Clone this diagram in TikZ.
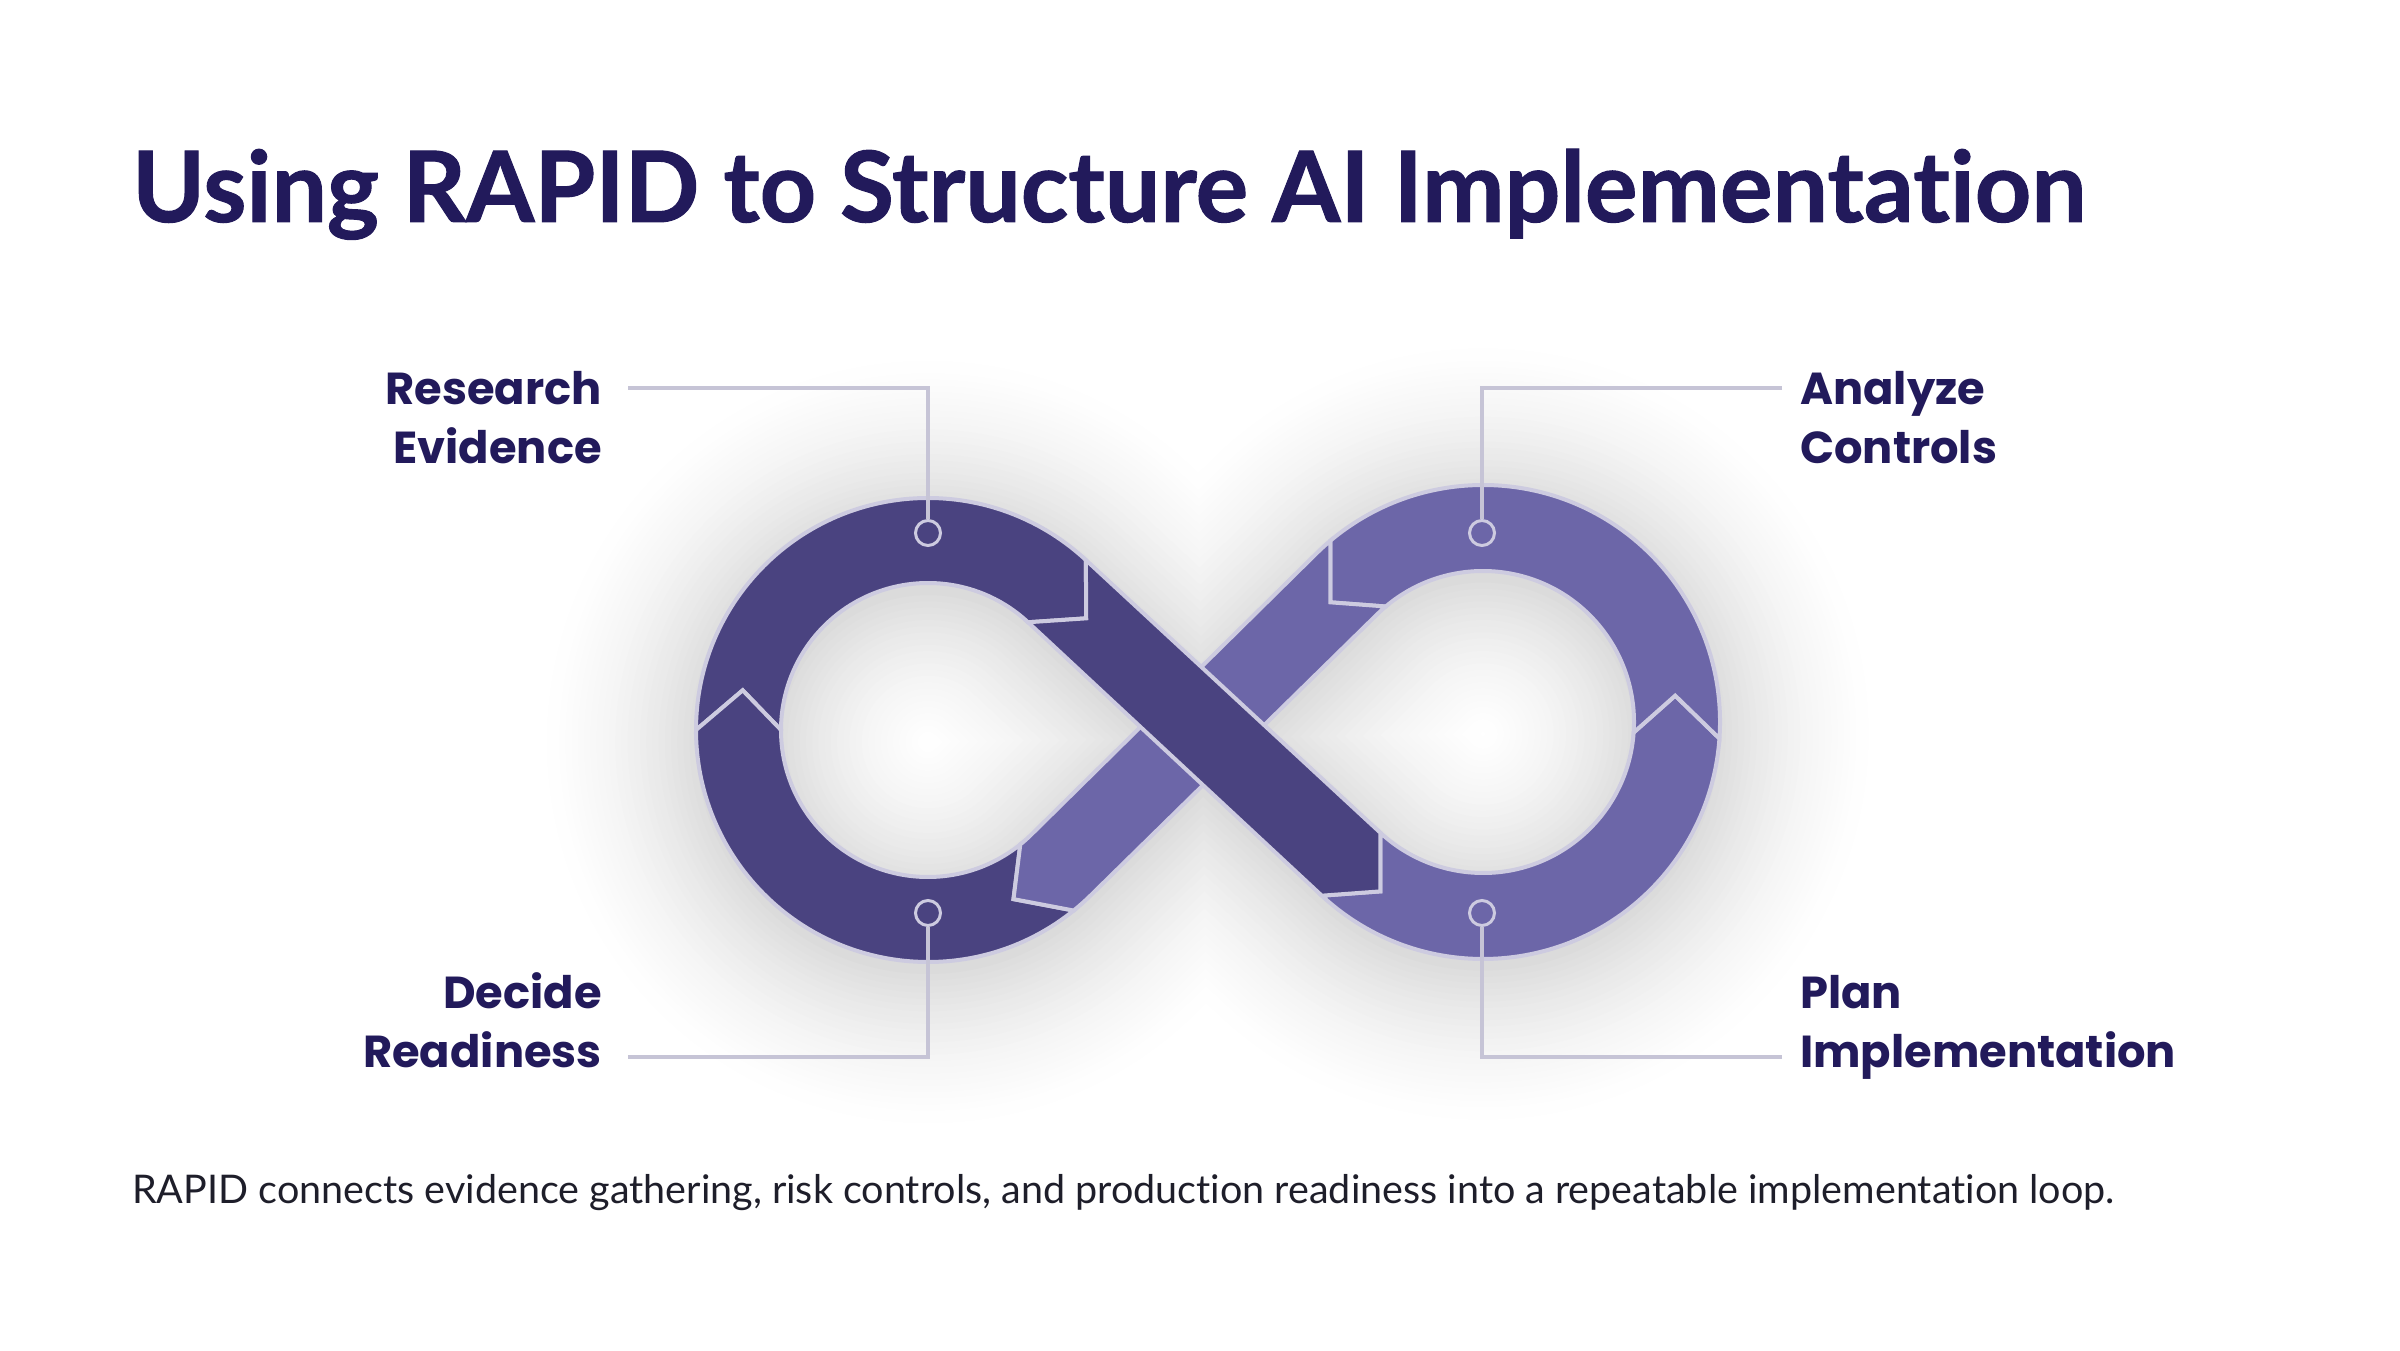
\documentclass[tikz,border=0pt]{standalone}
\usepackage{fontspec}
\setmainfont{Lato}[Ligatures=NoCommon]
\newfontfamily\titlefont{Lato}[Ligatures=NoCommon, BoldFeatures={FakeBold=1}]
\newfontfamily\headfont{Poppins}
\usetikzlibrary{calc}
\definecolor{titlecol}{HTML}{221A5B}
\definecolor{darkseg}{HTML}{4A4380}
\definecolor{lightseg}{HTML}{6C66A8}
\definecolor{edgecol}{HTML}{CDCBE0}
\definecolor{leadcol}{HTML}{C6C4D6}
\definecolor{capcol}{HTML}{1E1E2A}
\begin{document}
\begin{tikzpicture}[x=1pt,y=1pt,
  seg/.style={draw=edgecol, line width=4pt, line join=miter},
  segdark/.style={seg, fill=darkseg},
  seglight/.style={seg, fill=lightseg},
  marker/.style={circle, draw=edgecol, line width=3pt, minimum size=25pt, inner sep=0pt},
  leader/.style={draw=leadcol, line width=4.5pt},
  lbl/.style={inner sep=0pt, text=titlecol, font=\headfont\fontsize{44.8}{59}\selectfont\bfseries}]
\useasboundingbox (0,0) rectangle (2400,1350);
\fill[white] (0,0) rectangle (2400,1350);
% geometry
\def\phA{47.13}\def\phAm{-312.87}\def\phB{-132.87}\def\phC{134.53}\def\phD{-45.47}
\def\thD{-42.87}\def\thL{224.53}
\def\jC{130.1}\def\jD{-51.1}
\coordinate (C1) at (928,620);
\coordinate (C2) at (1483,628);
\coordinate (T1) at ($(C1)+(\phA:189.5)$);
\coordinate (T2) at ($(C2)+(\phB:194)$);
\coordinate (T3) at ($(C2)+(\phC:194)$);
\coordinate (T4) at ($(C1)+(\phD:189.5)$);
\coordinate (K1) at ($(T1)+(\thD:40)$);
\coordinate (K2) at ($(T2)+(\thD:40)$);
\coordinate (K3) at ($(C2)+(141.91:194)$);
\coordinate (K4) at ($(C1)+(-63.19:189.5)$);
\coordinate (KL) at ($(C1)+(167.91:189.5)$);
\coordinate (KR) at ($(C2)+(7.81:194)$);
% soft shadow
\begin{scope}[transform canvas={yshift=-12pt}]
\foreach \k in {26,25,...,0}{
  \pgfmathsetmacro\lw{85+2*6.2*\k}
  \pgfmathsetmacro\dk{14*(1-\k/27)^1.7}
  \draw[line width=\lw pt, line join=round, draw=black!\dk!white]
    (T1) -- (T2) arc[start angle=\phB, end angle=\phC, radius=194] -- (T4)
    arc[start angle=\phD, end angle=\phAm, radius=189.5] -- cycle;
}
\end{scope}
% segments
\filldraw[segdark] ($(C1)+(180:232)$) arc[start angle=180, end angle=\phA, radius=232] -- (K1)
  -- ($(C1)+(\phA:147)$) arc[start angle=\phA, end angle=180, radius=147] -- (KL) -- cycle;
\filldraw[segdark] ($(C1)+(\jD:232)$) arc[start angle=\jD, end angle=-180, radius=232] -- (KL)
  -- ($(C1)+(-180:147)$) arc[start angle=-180, end angle=\jD, radius=147] -- (K4) -- cycle;
\filldraw[seglight] ($(C2)+(\phB:237)$) arc[start angle=\phB, end angle=-4, radius=237] -- (KR)
  -- ($(C2)+(-4:151)$) arc[start angle=-4, end angle=\phB, radius=151] -- (K2) -- cycle;
\filldraw[seglight] ($(C2)+(-4:237)$) arc[start angle=-4, end angle=\jC, radius=237] -- (K3)
  -- ($(C2)+(\jC:151)$) arc[start angle=\jC, end angle=-4, radius=151] -- (KR) -- cycle;
\filldraw[seglight] ($(C2)+(\jC:237)$) arc[start angle=\jC, end angle=\phC, radius=237]
  -- ($(C1)+(\phD:147)$) arc[start angle=\phD, end angle=\jD, radius=147] -- (K4)
  -- ($(C1)+(\jD:232)$) arc[start angle=\jD, end angle=\phD, radius=232]
  -- ($(C2)+(\phC:151)$) arc[start angle=\phC, end angle=\jC, radius=151] -- (K3) -- cycle;
\filldraw[segdark] ($(C1)+(\phA:232)$) -- ($(C2)+(\phB:151)$) -- (K2) -- ($(C2)+(\phB:237)$)
  -- ($(C1)+(\phA:147)$) -- (K1) -- cycle;
% markers
\node[marker] (m1) at (928,817) {};
\node[marker] (m2) at (1482,817) {};
\node[marker] (m3) at (928,437) {};
\node[marker] (m4) at (1482,437) {};
% leader start points
\coordinate (a1) at (628,962);
\coordinate (a2) at (1782,962);
\coordinate (a3) at (628,293);
\coordinate (a4) at (1782,293);
\draw[leader] (a1) -| (m1.north);
\draw[leader] (a2) -| (m2.north);
\draw[leader] (a3) -| (m3.south);
\draw[leader] (a4) -| (m4.south);
% labels
\node[lbl, anchor=base east] (lr) at (602,945) {\begin{tabular}[t]{@{}r@{}}Research\\Evidence\end{tabular}};
\node[lbl, anchor=base west] (la) at (1800,945) {\begin{tabular}[t]{@{}l@{}}Analyze\\Controls\end{tabular}};
\node[lbl, anchor=base east] (ld) at (602,342) {\begin{tabular}[t]{@{}r@{}}Decide\\Readiness\end{tabular}};
\node[lbl, anchor=base west] (lp) at (1800,342) {\begin{tabular}[t]{@{}l@{}}Plan\\Implementation\end{tabular}};
% title and caption
\node[anchor=base west, inner sep=0pt, text=titlecol, font=\titlefont\fontsize{98.4}{120}\selectfont\bfseries] (title) at (132,1128) {Using RAPID to Structure AI Implementation};
\node[anchor=base west, inner sep=0pt, text=capcol, font=\fontsize{39.5}{46}\selectfont] (caption) at (132,147) {RAPID connects evidence gathering, risk controls, and production readiness into a repeatable implementation loop.};
\end{tikzpicture}
\end{document}
